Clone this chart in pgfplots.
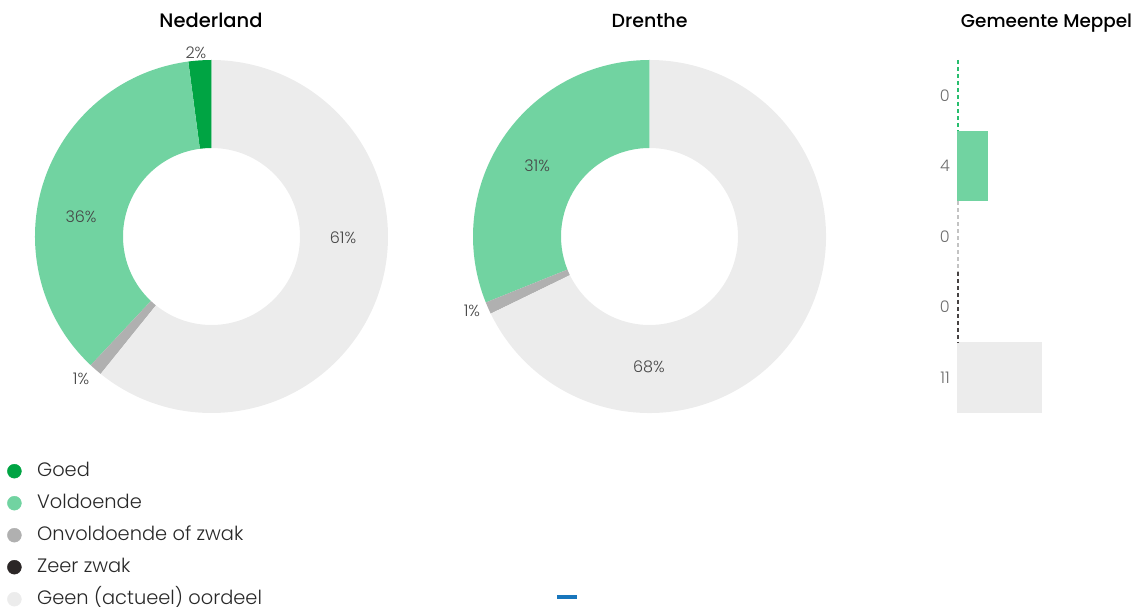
\documentclass[border=0pt]{standalone}
\usepackage{pgfplots}
\pgfplotsset{compat=1.18}
\usepackage{fontspec}
\setmainfont{Poppins}
\newfontfamily\lightfont{Poppins Light}
\newfontfamily\medfont{Poppins Medium}
\definecolor{cgoed}{RGB}{0,164,67}
\definecolor{cvold}{RGB}{113,211,161}
\definecolor{conv}{RGB}{176,176,176}
\definecolor{czeer}{RGB}{43,38,38}
\definecolor{cgeen}{RGB}{236,236,236}
\definecolor{ctext}{RGB}{40,40,40}
\definecolor{cpct}{RGB}{70,70,70}
\definecolor{cbar}{RGB}{110,110,110}
\definecolor{cblue}{RGB}{24,118,188}
\definecolor{cdashg}{RGB}{40,190,110}
\definecolor{cdashl}{RGB}{195,195,195}
\definecolor{cdashd}{RGB}{70,66,66}
\def\Rout{176.5pt}
\def\Rin{88.5pt}
\def\Rdiff{88pt}
% #1 cumulative start (percent), #2 value (percent), #3 colour
\newcommand\ring[3]{%
  \pgfmathsetmacro\ringA{90+3.6*(#1)}%
  \pgfmathsetmacro\ringB{90+3.6*(#1+#2)}%
  \edef\ringtmp{\noexpand\fill[#3] (axis cs:0,0) ++(\ringA:\noexpand\Rout)
    arc[start angle=\ringA, end angle=\ringB, radius=\noexpand\Rout]
    -- ++(\ringB:-\noexpand\Rdiff)
    arc[start angle=\ringB, end angle=\ringA, radius=\noexpand\Rin] -- cycle;}%
  \ringtmp}
\pgfplotsset{
  donut/.style={hide axis, clip=false, scale only axis,
    x=176.5pt, y=176.5pt, xmin=-1, xmax=1, ymin=-1, ymax=1, anchor=center},
}
\tikzset{pct/.style={font=\lightfont\fontsize{16}{19}\selectfont, text=cpct}}
\begin{document}
\begin{tikzpicture}
\useasboundingbox (0pt,0pt) rectangle (1137pt,607pt);
% titles
\node[anchor=base, font=\medfont\fontsize{19.5}{24}\selectfont, text=black] at (211pt,579pt) {Nederland};
\node[anchor=base, font=\medfont\fontsize{19}{24}\selectfont, text=black] at (649.5pt,579pt) {Drenthe};
\node[anchor=base, font=\medfont\fontsize{18.4}{24}\selectfont, text=black] at (1046.5pt,579pt) {Gemeente Meppel};

% Nederland donut
\begin{axis}[donut, at={(211.5pt,370.5pt)},
  legend style={at={(-0.0793,-0.136)}, anchor=north west, draw=none, fill=none,
    inner sep=0pt, row sep=12pt, column sep=15.5pt,
    font=\lightfont\fontsize{19.4}{24}\selectfont, text=ctext,
    nodes={inner sep=0pt, text height=15pt, text depth=5pt}},
  legend cell align=left]
  \ring{0}{2.1}{cgoed}
  \ring{2.1}{35.9}{cvold}
  \ring{38.0}{1.2}{conv}
  \ring{39.2}{60.8}{cgeen}
  \node[pct] at (axis cs:-0.088,1.04) {2\%};
  \node[pct] at (axis cs:-0.739,0.110) {36\%};
  \node[pct] at (axis cs:0.745,-0.008) {61\%};
  \node[pct] at (axis cs:-0.739,-0.807) {1\%};
  \addlegendimage{legend image code/.code={\fill[cgoed] (0pt,0pt) circle (7pt);}}
  \addlegendentry{Goed}
  \addlegendimage{legend image code/.code={\fill[cvold] (0pt,0pt) circle (7pt);}}
  \addlegendentry{Voldoende}
  \addlegendimage{legend image code/.code={\fill[conv] (0pt,0pt) circle (7pt);}}
  \addlegendentry{Onvoldoende of zwak}
  \addlegendimage{legend image code/.code={\fill[czeer] (0pt,0pt) circle (7pt);}}
  \addlegendentry{Zeer zwak}
  \addlegendimage{legend image code/.code={\fill[cgeen] (0pt,0pt) circle (7pt);}}
  \addlegendentry{Geen (actueel) oordeel}
\end{axis}

% Drenthe donut
\begin{axis}[donut, at={(649.5pt,370.5pt)}]
  \ring{0}{31.1}{cvold}
  \ring{31.1}{1.1}{conv}
  \ring{32.2}{67.8}{cgeen}
  \node[pct] at (axis cs:-0.637,0.399) {31\%};
  \node[pct] at (axis cs:-1.006,-0.422) {1\%};
  \node[pct] at (axis cs:-0.003,-0.739) {68\%};
\end{axis}

% Gemeente Meppel bars
\begin{axis}[at={(957pt,194pt)}, anchor=south west, scale only axis,
  width=107.8pt, height=353pt, clip=false,
  xmin=0, xmax=14, ymin=-0.5, ymax=4.5, y dir=reverse,
  axis x line=none, axis y line=left, y axis line style={draw=none},
  ytick={0,1,2,3,4}, yticklabels={0,4,0,0,11},
  major tick length=0pt,
  yticklabel style={anchor=east, inner sep=0pt, xshift=-7pt,
    font=\lightfont\fontsize{16}{19}\selectfont, text=cbar}]
  \addplot[xbar, bar width=70.6pt, bar shift=0pt, fill=cvold, draw=none] coordinates {(4,1)};
  \addplot[xbar, bar width=70.6pt, bar shift=0pt, fill=cgeen, draw=none] coordinates {(11,4)};
  \addplot[no marks, color=cdashg, line width=1.5pt, dash pattern=on 4pt off 3pt] coordinates {(0.1,-0.5) (0.1,0.5)};
  \addplot[no marks, color=cdashl, line width=1.5pt, dash pattern=on 4pt off 3pt] coordinates {(0.1,1.5) (0.1,2.5)};
  \addplot[no marks, color=cdashd, line width=1.5pt, dash pattern=on 4pt off 3pt] coordinates {(0.1,2.5) (0.1,3.5)};
\end{axis}

% small blue dash
\draw[line width=4pt, cblue] (557pt,10pt) -- (577pt,10pt);
\end{tikzpicture}
\end{document}
